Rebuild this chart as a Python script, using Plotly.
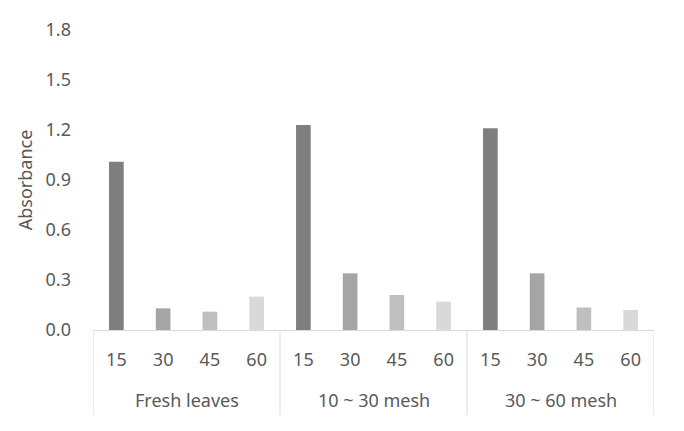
import plotly.graph_objects as go

groups = ["Fresh leaves", "10 ~ 30 mesh", "30 ~ 60 mesh"]
times = ["15", "30", "45", "60"]
fresh_leaves = [1.01, 0.13, 0.11, 0.20]
mesh_10_30 = [1.23, 0.34, 0.21, 0.17]
mesh_30_60 = [1.21, 0.34, 0.135, 0.12]
time_colors = ["#7f7f7f", "#a5a5a5", "#bfbfbf", "#d9d9d9"]
y_ticks = [0.0, 0.3, 0.6, 0.9, 1.2, 1.5, 1.8]

series = [fresh_leaves, mesh_10_30, mesh_30_60]
n = len(times)
xpos, yv, cols, tlabels = [], [], [], []
for gi, vals in enumerate(series):
    for ti, v in enumerate(vals):
        xpos.append(gi * n + ti)
        yv.append(v)
        cols.append(time_colors[ti])
        tlabels.append(times[ti])

fig = go.Figure(go.Bar(x=xpos, y=yv, marker=dict(color=cols, line=dict(width=0)),
                       showlegend=False, hoverinfo="y"))

font_family = "Noto Sans, Open Sans, sans-serif"
txt = "#595959"
fs = 18
m_l, m_r, m_t, m_b = 85, 38, 22, 109
plot_h = 431 - m_t - m_b

fig.update_layout(
    width=684, height=431,
    margin=dict(l=m_l, r=m_r, t=m_t, b=m_b),
    plot_bgcolor="white", paper_bgcolor="white",
    bargap=0.686,
    font=dict(family=font_family, size=fs, color=txt),
)
fig.update_xaxes(
    range=[-0.5, len(xpos) - 0.5],
    tickvals=xpos, ticktext=tlabels,
    showline=True, linecolor="#d9d9d9", linewidth=1,
    ticks="", showgrid=False, zeroline=False,
    ticklabelstandoff=13, automargin=False,
    tickfont=dict(size=fs, color=txt),
)
fig.update_yaxes(
    range=[0, 1.8], tickvals=y_ticks,
    ticktext=[f"{v:.1f}" for v in y_ticks],
    showgrid=False, showline=False, zeroline=False,
    ticklabelstandoff=21, automargin=False,
    title=dict(text="Absorbance", font=dict(size=fs, color=txt), standoff=8),
    tickfont=dict(size=fs, color=txt),
)

# group labels and dividers
div_bottom = -85 / plot_h
for gi, g in enumerate(groups):
    fig.add_annotation(x=gi * n + (n - 1) / 2, y=-70 / plot_h,
                       xref="x", yref="paper", text=g, showarrow=False,
                       yanchor="middle", font=dict(size=fs, color=txt))
for k in range(len(groups) + 1):
    fig.add_shape(type="line", x0=k * n - 0.5, x1=k * n - 0.5, y0=0, y1=div_bottom,
                  xref="x", yref="paper", line=dict(color="#d9d9d9", width=1))

fig.write_html("out.html")
